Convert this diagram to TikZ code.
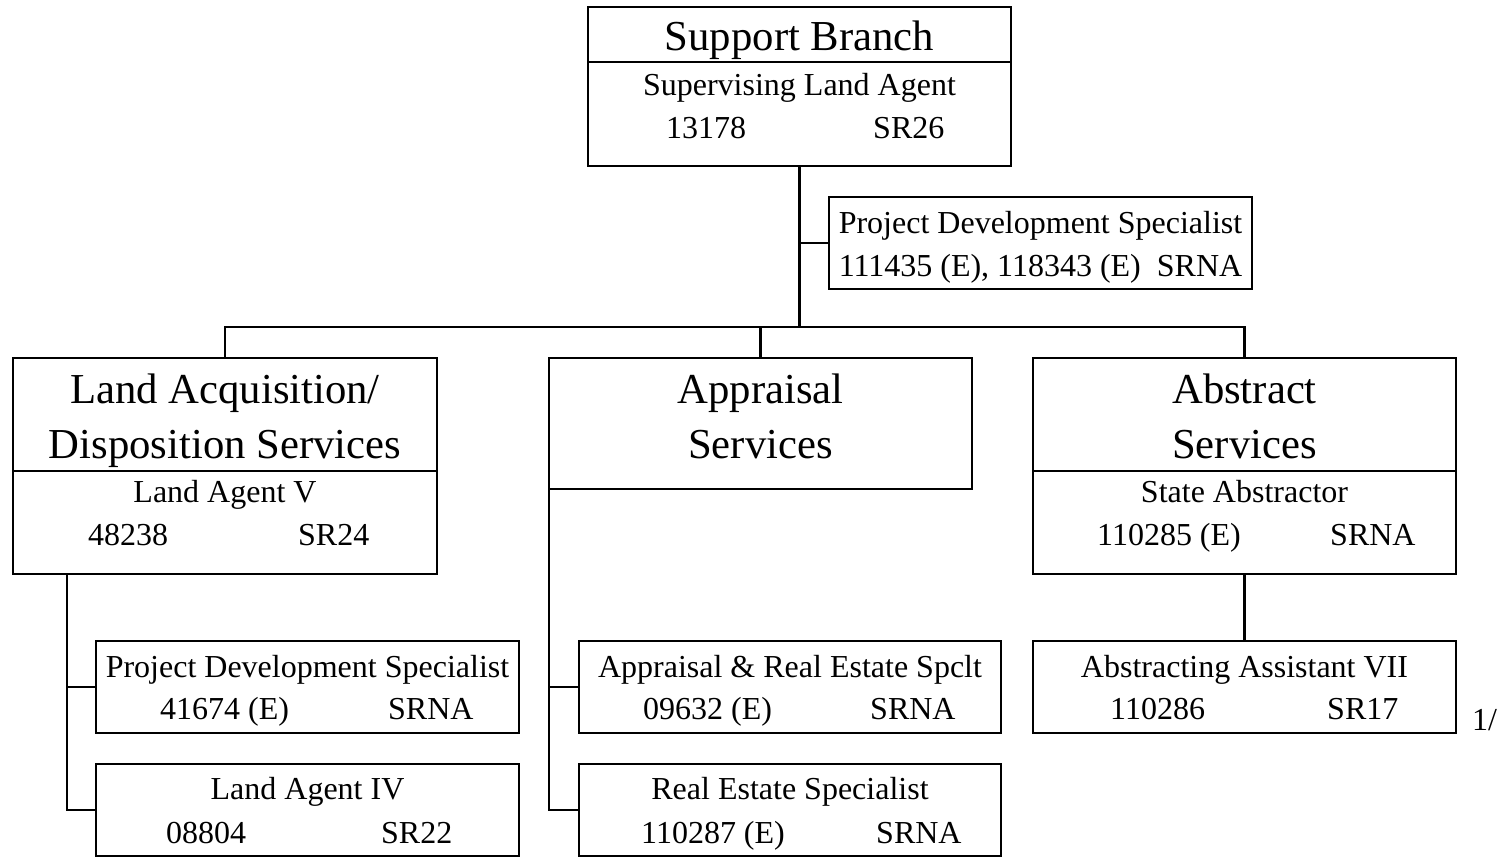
\documentclass[tikz,border=0pt]{standalone}
\usepackage{fontspec}
\setmainfont{Liberation Serif}
\newcommand{\bigf}{\fontsize{42.7}{55}\selectfont}
\newcommand{\smallf}{\fontsize{32}{43}\selectfont}
\begin{document}
\begin{tikzpicture}[x=1pt,y=-1pt,
  box/.style={draw,line width=2.4pt,rectangle,anchor=north west,inner sep=0pt,outer sep=0pt},
  divline/.style={line width=1.3pt},
  conn/.style={line width=2.4pt},
  ttl/.style={anchor=base,inner sep=0pt,font=\bigf},
  txt/.style={anchor=base,inner sep=0pt,font=\smallf},
  col/.style={anchor=base west,inner sep=0pt,font=\smallf}]
\useasboundingbox (0,0) rectangle (1497,857);

% boxes
\node[box,minimum width=423pt,minimum height=159pt] (top) at (588,7) {};
\node[box,minimum width=423pt,minimum height=92pt] (pds) at (829,197) {};
\node[box,minimum width=424pt,minimum height=216pt] (land) at (13,358) {};
\node[box,minimum width=423pt,minimum height=131pt] (appr) at (549,358) {};
\node[box,minimum width=423pt,minimum height=216pt] (abst) at (1033,358) {};
\node[box,minimum width=423pt,minimum height=92pt] (pdsb) at (96,641) {};
\node[box,minimum width=423pt,minimum height=92pt] (laiv) at (96,764) {};
\node[box,minimum width=422pt,minimum height=92pt] (ares) at (579,641) {};
\node[box,minimum width=422pt,minimum height=92pt] (res) at (579,764) {};
\node[box,minimum width=423pt,minimum height=92pt] (aavii) at (1033,641) {};

% dividers
\draw[divline] (top.west |- 0,62) -- (top.east |- 0,62);
\draw[divline] (land.west |- 0,471) -- (land.east |- 0,471);
\draw[divline] (abst.west |- 0,471) -- (abst.east |- 0,471);

% top box texts
\node[ttl] (tA) at (799.5,50) {Support Branch};
\node[txt] (tB) at (799.5,95) {Supervising Land Agent};
\node[col] (tC) at (666,138) {13178};
\node[col] (tD) at (873,138) {SR26};

% PDS top
\node[txt] (pA) at (1040.5,233) {Project Development Specialist};
\node[txt] (pB) at (1040.5,276) {111435 (E), 118343 (E)\ \ SRNA};

% Land box
\node[ttl] (lA) at (225,403) {Land Acquisition/};
\node[ttl] (lB) at (225,458) {Disposition Services};
\node[txt] (lC) at (225,502) {Land Agent V};
\node[col] (lD) at (88,545) {48238};
\node[col] (lE) at (298,545) {SR24};

% Appraisal box
\node[ttl] (aA) at (760.5,403) {Appraisal};
\node[ttl] (aB) at (760.5,458) {Services};

% Abstract box
\node[ttl] (bA) at (1244.5,403) {Abstract};
\node[ttl] (bB) at (1244.5,458) {Services};
\node[txt] (bC) at (1244.5,502) {State Abstractor};
\node[col] (bD) at (1097,545) {110285 (E)};
\node[col] (bE) at (1330,545) {SRNA};

% PDS lower
\node[txt] (qA) at (307.5,677) {Project Development Specialist};
\node[col] (qB) at (160,719) {41674 (E)};
\node[col] (qC) at (388,719) {SRNA};

% Land Agent IV
\node[txt] (rA) at (307.5,799) {Land Agent IV};
\node[col] (rB) at (166,843) {08804};
\node[col] (rC) at (381,843) {SR22};

% Appraisal & Real Estate Spclt
\node[txt] (sA) at (790,677) {Appraisal \& Real Estate Spclt};
\node[col] (sB) at (643,719) {09632 (E)};
\node[col] (sC) at (870,719) {SRNA};

% Real Estate Specialist
\node[txt] (uA) at (790,799) {Real Estate Specialist};
\node[col] (uB) at (641,843) {110287 (E)};
\node[col] (uC) at (876,843) {SRNA};

% Abstracting Assistant VII
\node[txt] (vA) at (1244.5,677) {Abstracting Assistant VII};
\node[col] (vB) at (1110,719) {110286};
\node[col] (vC) at (1327,719) {SR17};

% footnote mark
\node[col] (fn) at (1472,730) {1/};

% connectors
\coordinate (bus) at (799.5,327);
\coordinate (lv) at (67,574);
\draw[conn] (top.south) -- (bus);
\draw[conn] (pds.west) -- (pds.west -| top.south);
\draw[conn] (land.north) |- (bus) -| (abst.north);
\draw[conn] (appr.north) -- (appr.north |- bus);
\draw[conn] (lv) |- (pdsb.west);
\draw[conn] (lv) |- (laiv.west);
\draw[conn] (appr.south west) |- (ares.west);
\draw[conn] (appr.south west) |- (res.west);
\draw[conn] (abst.south) -- (aavii.north);
\end{tikzpicture}
\end{document}
